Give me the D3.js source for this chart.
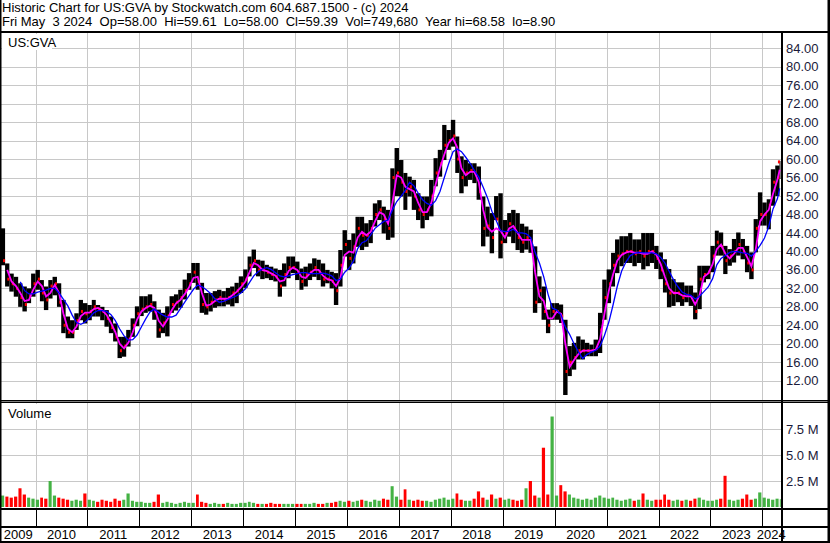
<!DOCTYPE html>
<html>
<head>
<meta charset="utf-8">
<script src="https://cdn.jsdelivr.net/npm/d3@7/dist/d3.min.js"></script>
<style>
  body { margin: 0; background: #fff; }
  svg { display: block; font-family: Arial, "Liberation Sans", sans-serif; }
  text { white-space: pre; }
</style>
</head>
<body>
<div id="chart"></div>
<script>

// monthly bars, first one is May 2009, last one is the partial May 2024
const firstMonth = new Date(2009, 4, 1) ;
const lastDay = new Date(2024, 4, 3) ;

const highs = [45, 37.4, 35.2, 34.5, 33.1, 32.4, 32, 35.2,
  36, 33.8, 32.4, 33.8, 34.5, 33.1, 29.5, 25.9, 25.1, 26.6, 29.5, 28.8,
  28.4, 29.5, 28.4, 28, 27.3, 25.9, 24.4, 21.5, 21.5, 23, 25.5, 28.1,
  30.3, 30.3, 30.7, 29.2, 27.4, 26.7, 28.1, 30.3, 30.7, 31.7, 33.9, 35.3,
  37.5, 37.5, 33.2, 31, 31, 31.4, 31.7, 31.4, 32.1, 32.4, 33.2, 34.6,
  36.1, 38.9, 40.4, 38.2, 38, 37.1, 36.7, 36.3, 36, 37.4, 38.9, 38.9,
  37.8, 36.3, 36.7, 37.4, 38.5, 38.2, 37.4, 36, 35.6, 35.3, 40.3, 44.6,
  42.5, 43.9, 47.5, 47.5, 46.1, 46.8, 50.4, 51.1, 49.7, 49, 58, 62.4,
  59.8, 57, 56.2, 55.5, 52.6, 51.9, 51.9, 55.5, 60.2, 62, 67.4, 66.3,
  68.5, 64.9, 60.6, 59.8, 59.1, 59.1, 58.4, 51.9, 49.7, 48.3, 52, 52.6,
  46.8, 48.3, 49, 48.3, 46, 45.4, 44.7, 41.1, 34.6, 32.4, 27.4, 28.8,
  28.8, 28.5, 25.2, 19.5, 20.2, 21.6, 20.9, 20.2, 19.8, 20.9, 26.7, 33.9,
  36.1, 39.7, 42.6, 43.3, 43.3, 44, 42.6, 42.6, 44, 44, 44, 41.2,
  39.8, 38.3, 36.2, 34, 33.3, 33.3, 32.6, 32.6, 31.1, 36.9, 36.9, 36.9,
  41.2, 44.5, 44.1, 41.2, 40.5, 42.7, 44.1, 42.7, 41.2, 39.8, 47, 52.8,
  50.6, 51.3, 57.8, 58.6, 59.61] ;

const lows = [37, 32.4, 31.3, 30.2, 28, 27, 28.8, 30.2,
  31.7, 29.2, 27.3, 29.8, 30.5, 28, 22.3, 21.2, 21.2, 23, 25.1, 24.4,
  25.1, 25.9, 25.9, 25.1, 23.7, 22.3, 20.5, 16.9, 17.2, 19.4, 21.5, 23.8,
  26, 26.7, 27, 25.2, 21.3, 22.3, 21.6, 26.7, 27.2, 27.8, 29.6, 31.7,
  33.2, 31.7, 26.7, 26.3, 27, 27.8, 28.1, 28.1, 28.5, 28.1, 28.8, 31,
  32.1, 34.6, 36.4, 34.6, 34, 34.2, 33.8, 33.5, 30.2, 32.4, 34.2, 35.3,
  33.8, 31.7, 32.4, 33.8, 34.5, 33.8, 32.4, 33.1, 32, 28.4, 32.4, 38.9,
  36, 37.4, 41, 40.3, 41, 41.8, 45.4, 46.8, 43.9, 42.5, 43, 52,
  51.9, 49, 51.9, 49, 46.8, 45, 46.8, 47.6, 54.1, 56.2, 59.8, 62,
  62.7, 57, 52.6, 54.1, 55.5, 54.8, 51.2, 41.1, 43.2, 39.6, 46.8, 38.5,
  41.8, 43.2, 41.8, 40.3, 39.7, 40.4, 39.7, 26.7, 28.8, 25.2, 22.3, 25.2,
  25.2, 24.5, 8.9, 13, 14.4, 16.6, 16.6, 17.3, 17.3, 17.3, 18, 25.2,
  28.8, 32.4, 35.3, 36.8, 37.5, 37.5, 36.8, 37.5, 36.1, 36.8, 37.5, 36.2,
  34, 31.1, 27.9, 28.2, 29, 28.2, 29, 28.2, 25.3, 27.5, 33.3, 34,
  35.5, 39.1, 39.1, 35.1, 36.9, 37.6, 39.1, 38.3, 35.5, 34, 39.8, 45.6,
  45.6, 44.8, 49.9, 52, 55.7] ;

const closes = [38, 34, 33, 32, 30, 28.5, 30.5, 33,
  34, 31, 29.5, 32.5, 33, 29, 24, 22.5, 22.5, 25, 27, 26.5,
  27, 28, 27.5, 27, 25.5, 23.5, 21.5, 18.5, 19.5, 21, 24, 26.5,
  27.5, 28, 28.5, 27, 23, 24.5, 26, 28.5, 29, 30, 31.5, 33,
  35.5, 33.5, 28.5, 28, 29, 29.5, 30, 29.5, 30, 31, 31.5, 33,
  34, 37, 38, 36, 36, 35.5, 35, 34.5, 32.5, 35, 36.5, 36.5,
  35.5, 33.5, 35, 35.5, 36.5, 35.5, 34, 34, 33.5, 31.5, 37, 41.5,
  38.5, 41, 45, 43.5, 43.5, 45, 48, 49, 47, 45, 56, 57,
  55, 53, 54, 52, 49, 48, 49, 52, 57, 59, 63, 64,
  65, 60, 56, 57, 57.5, 57, 53, 45, 45.5, 43, 47, 42,
  44, 46, 45, 43, 42, 43, 42, 29, 31.5, 27, 24, 27,
  27, 26, 14, 16, 17, 18.5, 18.5, 18.5, 18.5, 19, 23, 30,
  33, 37, 39, 39.5, 40, 40, 39.5, 40, 39, 40, 40, 38.5,
  36, 33, 31, 31, 31, 30, 30.5, 30, 27, 34, 35, 35.5,
  39, 42, 41, 38, 39, 40, 41.5, 40, 37.5, 36, 45, 48,
  48, 50, 55, 56, 59.39] ;

// thousands of shares per month
const volumes = [1100, 1000, 900, 1000, 1800, 1200, 900, 800,
  700, 900, 800, 2500, 1100, 900, 800, 700, 600, 700, 600, 1300,
  700, 600, 500, 700, 600, 500, 800, 600, 700, 1300, 600, 500,
  500, 400, 400, 500, 1200, 400, 500, 400, 300, 400, 500, 400,
  400, 1200, 500, 400, 300, 400, 300, 300, 400, 300, 300, 400,
  400, 500, 400, 300, 300, 300, 400, 300, 300, 300, 300, 300,
  300, 300, 300, 300, 400, 300, 300, 400, 400, 500, 600, 500,
  600, 500, 600, 700, 600, 500, 700, 600, 800, 700, 2000, 1000,
  700, 1700, 700, 600, 700, 600, 600, 500, 700, 800, 900, 700,
  800, 1300, 700, 600, 600, 800, 1500, 900, 700, 1200, 800, 900,
  700, 800, 700, 600, 700, 1800, 2500, 1100, 900, 5700, 1200, 8700,
  1100, 2100, 1500, 1200, 900, 800, 700, 800, 700, 900, 1100, 900,
  800, 900, 700, 600, 700, 800, 600, 700, 1300, 700, 600, 700,
  700, 1200, 700, 600, 700, 600, 700, 600, 800, 900, 700, 600,
  600, 700, 800, 3000, 700, 600, 700, 800, 1200, 700, 800, 1400,
  900, 800, 700, 800, 750] ;

const priceTicks = [12, 16, 20, 24, 28, 32, 36, 40, 44, 48, 52, 56, 60, 64, 68, 72, 76, 80, 84] ;
const volumeTicks = [2.5, 5.0, 7.5] ;
const years = d3.range(2009, 2025) ;

const headerLines = [
  "Historic Chart for US:GVA by Stockwatch.com 604.687.1500 - (c) 2024",
  "Fri May  3 2024  Op=58.00  Hi=59.61  Lo=58.00  Cl=59.39  Vol=749,680  Year hi=68.58  lo=8.90"
] ;

function movingAvg(arr, n) {
  return arr.map((d, i) => i < n - 1 ? null : d3.mean(arr.slice(i - n + 1, i + 1))) ;
}

function drawChart() {

  const dimensions = {
    width: 830,
    height: 543,
    plotLeft: 1,
    plotRight: 782,
    priceTop: 33,
    priceBottom: 400,
    volTop: 403,
    volBottom: 508,
    stripBottom: 527,
  } ;

  const bars = highs.map((h, i) => {
    const d0 = d3.timeMonth.offset(firstMonth, i) ;
    let d1 = d3.timeMonth.offset(firstMonth, i + 1) ;
    if (d1 > lastDay) d1 = d3.timeDay.offset(lastDay, 1) ;
    return {d0: d0, d1: d1, high: h, low: lows[i], close: closes[i], vol: volumes[i] * 1000,
      up: i == 0 ? true : closes[i] >= closes[i - 1]} ;
  }) ;

  const shortMA = movingAvg(closes, 2) ;
  const longMA = movingAvg(closes, 5) ;

  const svg = d3.select("#chart").append("svg")
      .attr("width", dimensions.width)
      .attr("height", dimensions.height) ;

  const xScale = d3.scaleTime()
    .domain([new Date(2010, 0, 1), new Date(2024, 0, 1)])
    .range([35.5, 762.3]) ;

  const yScale = d3.scaleLinear()
    .domain([12, 84])
    .range([380.7, 48.3]) ;

  const vScale = d3.scaleLinear()
    .domain([0, 10e6])
    .range([507, 403]) ;

  // header text
  svg.selectAll(".header")
    .data(headerLines)
    .enter().append("text")
      .attr("class", "header")
      .attr("x", 2)
      .attr("y", (d, i) => 12 + i * 14)
      .attr("font-size", 13)
      .attr("fill", "#000")
      .text(d => d) ;

  const grid = "#c8c8c8" ;
  const yearLines = years.slice(1).map(y => xScale(new Date(y, 0, 1))) ;

  // price grid
  svg.append("g").selectAll("line")
    .data(priceTicks)
    .enter().append("line")
      .attr("x1", dimensions.plotLeft).attr("x2", dimensions.plotRight)
      .attr("y1", d => Math.round(yScale(d)) + 0.5).attr("y2", d => Math.round(yScale(d)) + 0.5)
      .attr("stroke", grid) ;
  svg.append("g").selectAll("line")
    .data(yearLines)
    .enter().append("line")
      .attr("x1", d => Math.round(d) + 0.5).attr("x2", d => Math.round(d) + 0.5)
      .attr("y1", dimensions.priceTop).attr("y2", dimensions.priceBottom)
      .attr("stroke", grid) ;

  // volume grid
  svg.append("g").selectAll("line")
    .data(volumeTicks)
    .enter().append("line")
      .attr("x1", dimensions.plotLeft).attr("x2", dimensions.plotRight)
      .attr("y1", d => Math.round(vScale(d * 1e6)) + 0.5).attr("y2", d => Math.round(vScale(d * 1e6)) + 0.5)
      .attr("stroke", grid) ;
  svg.append("g").selectAll("line")
    .data(yearLines)
    .enter().append("line")
      .attr("x1", d => Math.round(d) + 0.5).attr("x2", d => Math.round(d) + 0.5)
      .attr("y1", dimensions.volTop).attr("y2", dimensions.volBottom)
      .attr("stroke", grid) ;

  // price bars: high-low range with the close tick in red
  const priceG = svg.append("g") ;
  priceG.selectAll("rect.bar")
    .data(bars)
    .enter().append("rect")
      .attr("class", "bar")
      .attr("x", d => xScale(d.d0))
      .attr("width", d => Math.max(1, xScale(d.d1) - xScale(d.d0)))
      .attr("y", d => yScale(d.high))
      .attr("height", d => yScale(d.low) - yScale(d.high))
      .attr("fill", "#000") ;
  priceG.selectAll("rect.cl")
    .data(bars)
    .enter().append("rect")
      .attr("class", "cl")
      .attr("x", d => xScale(d.d1) - 2)
      .attr("width", 2)
      .attr("y", d => yScale(d.close) - 1.5)
      .attr("height", 3)
      .attr("fill", "#ff0000") ;

  const mid = d => xScale(new Date((+d.d0 + +d.d1) / 2)) ;

  const lineGen = (ma) => d3.line()
    .defined((d, i) => ma[i] != null)
    .x(d => mid(d))
    .y((d, i) => yScale(ma[i])) ;

  svg.append("path")
    .attr("d", lineGen(shortMA)(bars))
    .attr("fill", "none")
    .attr("stroke", "#ff00ff")
    .attr("stroke-width", 1.8) ;
  svg.append("path")
    .attr("d", lineGen(longMA)(bars))
    .attr("fill", "none")
    .attr("stroke", "#0000ff")
    .attr("stroke-width", 1.3) ;

  // volume bars
  svg.append("g").selectAll("rect")
    .data(bars)
    .enter().append("rect")
      .attr("x", d => xScale(d.d0) + 0.3)
      .attr("width", d => Math.max(1, xScale(d.d1) - xScale(d.d0) - 1.2))
      .attr("y", d => vScale(d.vol))
      .attr("height", d => vScale(0) - vScale(d.vol))
      .attr("fill", d => d.up ? "#44b244" : "#ff0000") ;

  // panel labels
  svg.append("rect").attr("x", 2).attr("y", 34).attr("width", 50).attr("height", 16).attr("fill", "#fff") ;
  svg.append("text").attr("x", 8).attr("y", 47).attr("font-size", 13).text("US:GVA") ;
  svg.append("rect").attr("x", 2).attr("y", 404).attr("width", 54).attr("height", 16).attr("fill", "#fff") ;
  svg.append("text").attr("x", 8).attr("y", 418).attr("font-size", 13).text("Volume") ;

  // right axis labels
  svg.append("g").selectAll("text")
    .data(priceTicks)
    .enter().append("text")
      .attr("x", 786)
      .attr("y", d => yScale(d))
      .attr("dy", "0.35em")
      .attr("font-size", 13)
      .attr("fill", "#1a1a3a")
      .text(d => d.toFixed(2)) ;
  svg.append("g").selectAll("text")
    .data(volumeTicks)
    .enter().append("text")
      .attr("x", 786)
      .attr("y", d => vScale(d * 1e6))
      .attr("dy", "0.35em")
      .attr("font-size", 13)
      .attr("fill", "#1a1a3a")
      .text(d => d.toFixed(1) + " M") ;

  // year strip
  svg.append("g").selectAll("line")
    .data(yearLines)
    .enter().append("line")
      .attr("x1", d => Math.round(d) + 0.5).attr("x2", d => Math.round(d) + 0.5)
      .attr("y1", 510).attr("y2", dimensions.stripBottom)
      .attr("stroke", "#000") ;

  svg.append("g").selectAll("text")
    .data(years)
    .enter().append("text")
      .attr("x", y => {
        const a = Math.max(xScale(new Date(y, 0, 1)), dimensions.plotLeft) ;
        const b = Math.min(xScale(new Date(y + 1, 0, 1)), 780) ;
        return (a + b) / 2 ;
      })
      .attr("y", 539)
      .attr("text-anchor", "middle")
      .attr("font-size", 13)
      .text(y => y) ;

  // frame lines
  const blk = [
    [0, 31, 830, 2],
    [0, 0, 1.5, 543],
    [827.5, 0, 2.5, 543],
    [0, 541, 830, 2],
    [781, 33, 2, 510],
    [0, 400, 830, 1.5],
    [0, 402, 830, 1],
    [0, 508, 830, 2],
    [0, 526, 830, 2],
  ] ;
  svg.append("g").selectAll("rect")
    .data(blk)
    .enter().append("rect")
      .attr("x", d => d[0]).attr("y", d => d[1])
      .attr("width", d => d[2]).attr("height", d => d[3])
      .attr("fill", "#000") ;
}

drawChart() ;
</script>
</body>
</html>
